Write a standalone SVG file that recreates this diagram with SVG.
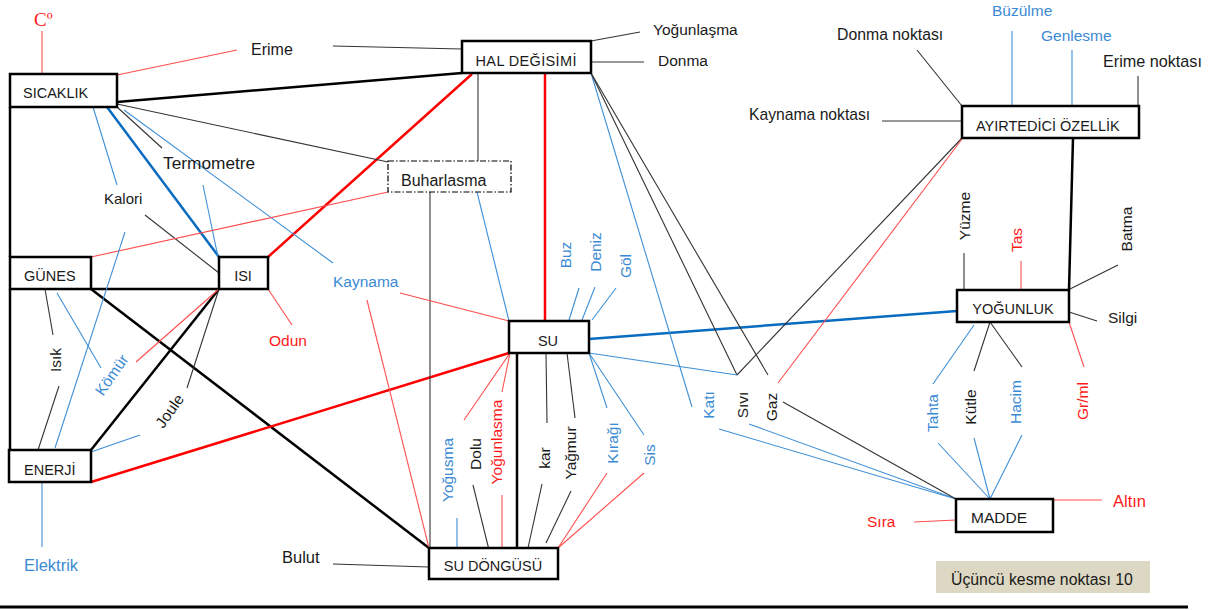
<svg xmlns="http://www.w3.org/2000/svg" width="1210" height="610" viewBox="0 0 1210 610">
<style>
text{font-family:"Liberation Sans",Arial,sans-serif;font-size:15.5px;fill:#1a1a1a}
.bt{font-size:14.5px}
.r{fill:#ff1a1a}
.b{fill:#3a8ad4}
.box{fill:#fff;stroke:#000;stroke-width:2.5}
.k{stroke:#000;stroke-width:2.5;fill:none}
.kr{stroke:#ff0000;stroke-width:2.5;fill:none}
.kb{stroke:#0a6cc0;stroke-width:2.5;fill:none}
.t{stroke:#333;stroke-width:1.1;fill:none}
.tr{stroke:#ff4d4d;stroke-width:1.1;fill:none}
.tb{stroke:#3f8fd6;stroke-width:1.1;fill:none}
</style>
<rect width="1210" height="610" fill="#fff"/>
<g id="connectors">
<line class="k" x1="117" y1="102" x2="462" y2="73"/>
<line class="k" x1="10" y1="107" x2="10" y2="257"/>
<line class="k" x1="10" y1="289" x2="10" y2="450"/>
<line class="k" x1="91" y1="289" x2="219" y2="289"/>
<line class="k" x1="91" y1="289" x2="429" y2="548"/>
<line class="k" x1="219" y1="289" x2="91" y2="450"/>
<line class="kb" x1="107" y1="107" x2="219" y2="257"/>
<line class="kr" x1="472" y1="74" x2="268" y2="257"/>
<line class="kr" x1="545" y1="74" x2="545" y2="321"/>
<line class="kr" x1="509" y1="353" x2="91" y2="482"/>
<line class="k" x1="517" y1="353" x2="517" y2="548"/>
<line class="kb" x1="589" y1="339" x2="957" y2="311"/>
<line class="k" x1="1073" y1="138" x2="1069" y2="290"/>
<line class="tr" x1="42" y1="31" x2="42" y2="74"/>
<line class="tr" x1="117" y1="75" x2="237" y2="50"/>
<line class="t" x1="333" y1="46" x2="462" y2="49"/>
<line class="t" x1="591" y1="41" x2="640" y2="32"/>
<line class="t" x1="591" y1="62" x2="644" y2="62"/>
<line class="t" x1="117" y1="104" x2="388" y2="162"/>
<line class="t" x1="117" y1="107" x2="162" y2="148"/>
<line class="tb" x1="93" y1="107" x2="117" y2="185"/>
<line class="t" x1="145" y1="215" x2="219" y2="273"/>
<line class="tb" x1="203" y1="185" x2="218" y2="257"/>
<line class="tb" x1="124" y1="110" x2="333" y2="263"/>
<line class="tr" x1="388" y1="192" x2="91" y2="257"/>
<line class="t" x1="478" y1="74" x2="478" y2="161"/>
<line class="tb" x1="591" y1="73" x2="692" y2="407"/>
<line class="t" x1="591" y1="73" x2="737" y2="375"/>
<line class="t" x1="591" y1="73" x2="768" y2="375"/>
<line class="t" x1="737" y1="375" x2="962" y2="138"/>
<line class="tr" x1="778" y1="383" x2="962" y2="139"/>
<line class="tb" x1="589" y1="353" x2="737" y2="375"/>
<line class="t" x1="882" y1="121" x2="962" y2="121"/>
<line class="t" x1="917" y1="50" x2="962" y2="106"/>
<line class="tb" x1="1012" y1="31" x2="1012" y2="106"/>
<line class="tb" x1="1072" y1="50" x2="1072" y2="106"/>
<line class="t" x1="1138" y1="76" x2="1138" y2="106"/>
<line class="t" x1="964" y1="253" x2="964" y2="290"/>
<line class="tr" x1="1021" y1="261" x2="1021" y2="290"/>
<line class="t" x1="1118" y1="265" x2="1070" y2="289"/>
<line class="t" x1="1069" y1="312" x2="1097" y2="321"/>
<line class="tr" x1="1069" y1="322" x2="1084" y2="367"/>
<line class="tb" x1="974" y1="325" x2="933" y2="384"/>
<line class="t" x1="990" y1="322" x2="974" y2="371"/>
<line class="t" x1="990" y1="322" x2="1022" y2="367"/>
<line class="tb" x1="719" y1="429" x2="956" y2="499"/>
<line class="tb" x1="749" y1="424" x2="956" y2="499"/>
<line class="t" x1="783" y1="402" x2="956" y2="499"/>
<line class="tb" x1="938" y1="443" x2="990" y2="499"/>
<line class="tb" x1="974" y1="438" x2="990" y2="499"/>
<line class="tb" x1="1022" y1="435" x2="990" y2="499"/>
<line class="tr" x1="1053" y1="500" x2="1102" y2="500"/>
<line class="tr" x1="914" y1="522" x2="956" y2="520"/>
<line class="tb" x1="477" y1="192" x2="509" y2="321"/>
<line class="t" x1="430" y1="192" x2="430" y2="548" stroke="#555"/>
<line class="tr" x1="400" y1="293" x2="509" y2="321"/>
<line class="tr" x1="367" y1="300" x2="429" y2="548"/>
<line class="tb" x1="579" y1="288" x2="569" y2="320"/>
<line class="tb" x1="595" y1="287" x2="582" y2="320"/>
<line class="tb" x1="616" y1="288" x2="592" y2="320"/>
<line class="tr" x1="510" y1="353" x2="464" y2="420"/>
<line class="tr" x1="510" y1="353" x2="502" y2="392"/>
<line class="tb" x1="457" y1="518" x2="457" y2="548"/>
<line class="t" x1="473" y1="485" x2="489" y2="550"/>
<line class="tr" x1="502" y1="495" x2="502" y2="548"/>
<line class="t" x1="546" y1="353" x2="547" y2="423"/>
<line class="t" x1="542" y1="484" x2="528" y2="548"/>
<line class="t" x1="567" y1="353" x2="575" y2="418"/>
<line class="t" x1="571" y1="491" x2="546" y2="543"/>
<line class="tb" x1="589" y1="353" x2="607" y2="408"/>
<line class="tr" x1="607" y1="473" x2="558" y2="548"/>
<line class="tb" x1="589" y1="353" x2="644" y2="435"/>
<line class="tr" x1="644" y1="473" x2="558" y2="548"/>
<line class="t" x1="333" y1="564" x2="429" y2="567"/>
<line class="t" x1="45" y1="289" x2="53" y2="335"/>
<line class="t" x1="59" y1="386" x2="38" y2="450"/>
<line class="tb" x1="57" y1="293" x2="101" y2="368"/>
<line class="tr" x1="219" y1="289" x2="136" y2="362"/>
<line class="t" x1="219" y1="289" x2="187" y2="388"/>
<line class="tb" x1="140" y1="435" x2="91" y2="452"/>
<line class="tr" x1="268" y1="289" x2="292" y2="325"/>
<line class="tb" x1="125" y1="232" x2="55" y2="448"/>
<line class="tb" x1="42" y1="482" x2="42" y2="547"/>
</g>
<g id="sicaklik"><rect class="box" x="10" y="74" width="107" height="33"/><text class="bt" x="23" y="98">SICAKLIK</text></g>
<g id="hal"><rect class="box" x="462" y="41" width="129" height="32"/><text class="bt" x="526" y="66" text-anchor="middle" textLength="101">HAL DEĞİSİMİ</text></g>
<g id="buharlasma"><rect x="388" y="161" width="123" height="31" fill="#fff" stroke="#000" stroke-width="1.2" stroke-dasharray="6 2 1.5 2"/><text x="401" y="186" style="font-size:16px">Buharlasma</text></g>
<g id="ayirtedici"><rect class="box" x="962" y="106" width="177" height="32"/><text class="bt" x="976" y="131">AYIRTEDİCİ ÖZELLİK</text></g>
<g id="gunes"><rect class="box" x="10" y="257" width="81" height="32"/><text class="bt" x="24" y="281">GÜNES</text></g>
<g id="isi"><rect class="box" x="219" y="257" width="49" height="32"/><text class="bt" x="243" y="281" text-anchor="middle">ISI</text></g>
<g id="su"><rect class="box" x="509" y="321" width="80" height="32"/><text class="bt" x="548" y="346" text-anchor="middle">SU</text></g>
<g id="yogunluk"><rect class="box" x="957" y="290" width="112" height="32"/><text class="bt" x="1013" y="314" text-anchor="middle">YOĞUNLUK</text></g>
<g id="enerji"><rect class="box" x="9" y="450" width="82" height="32"/><text class="bt" x="24" y="475">ENERJİ</text></g>
<g id="sudongusu"><rect class="box" x="429" y="548" width="129" height="31"/><text class="bt" x="493" y="571" text-anchor="middle">SU DÖNGÜSÜ</text></g>
<g id="madde"><rect class="box" x="956" y="499" width="97" height="33"/><text x="971" y="523" style="font-size:15.5px">MADDE</text></g>
<g id="kesme"><rect x="936" y="561" width="214" height="32" fill="#ddd8c3"/><text x="951" y="585" style="font-size:15.8px">Üçüncü kesme noktası 10</text></g>
<g id="labels">
<text x="34" y="26" class="r" style="font-family:'Liberation Serif',serif;font-size:19px">Cº</text>
<text x="251" y="55" style="font-size:16px">Erime</text>
<text x="163" y="169" style="font-size:17.3px">Termometre</text>
<text x="104" y="204" style="font-size:15px">Kalori</text>
<text x="333" y="287" class="b" style="font-size:15.5px">Kaynama</text>
<text x="269" y="346" class="r">Odun</text>
<text x="653" y="35">Yoğunlaşma</text>
<text x="658" y="66">Donma</text>
<text x="837" y="40" style="font-size:15.8px">Donma noktası</text>
<text x="992" y="16" class="b">Büzülme</text>
<text x="1041" y="41" class="b">Genlesme</text>
<text x="1103" y="67" style="font-size:16.2px">Erime noktası</text>
<text x="749" y="120" style="font-size:15.7px">Kaynama noktası</text>
<text x="1108" y="323">Silgi</text>
<text x="1113" y="507" class="r" style="font-size:16.5px">Altın</text>
<text x="867" y="527" class="r">Sıra</text>
<text x="24" y="571" class="b" style="font-size:16.5px">Elektrik</text>
<text x="282" y="563" style="font-size:16.5px">Bulut</text>
<g text-anchor="middle">
<text transform="translate(571,255) rotate(-90)" class="b">Buz</text>
<text transform="translate(601,252) rotate(-90)" class="b">Deniz</text>
<text transform="translate(631,266) rotate(-90)" class="b">Göl</text>
<text transform="translate(714,405) rotate(-90)" class="b">Katı</text>
<text transform="translate(748,405) rotate(-90)">Sıvı</text>
<text transform="translate(777,407) rotate(-90)">Gaz</text>
<text transform="translate(970,216) rotate(-90)">Yüzme</text>
<text transform="translate(1022,240) rotate(-90)" class="r">Tas</text>
<text transform="translate(1132,229) rotate(-90)">Batma</text>
<text transform="translate(938,413) rotate(-90)" class="b">Tahta</text>
<text transform="translate(976,407) rotate(-90)">Kütle</text>
<text transform="translate(1021,402) rotate(-90)" class="b">Hacim</text>
<text transform="translate(1088,401) rotate(-90)" class="r">Gr/ml</text>
<text transform="translate(453,470) rotate(-90)" class="b">Yoğusma</text>
<text transform="translate(481,454) rotate(-90)">Dolu</text>
<text transform="translate(502,442) rotate(-90)" class="r">Yoğunlasma</text>
<text transform="translate(550,458) rotate(-90)">kar</text>
<text transform="translate(576,453) rotate(-90)">Yağmur</text>
<text transform="translate(618,443) rotate(-90)" class="b">Kırağı</text>
<text transform="translate(655,455) rotate(-90)" class="b">Sis</text>
<text transform="translate(61,360) rotate(-90)">Isık</text>
<text transform="translate(116,378) rotate(-55)" class="b">Kömür</text>
<text transform="translate(174,414) rotate(-55)">Joule</text>
</g>
</g>
<line x1="0" y1="607" x2="1188" y2="607" stroke="#000" stroke-width="3"/>
</svg>
